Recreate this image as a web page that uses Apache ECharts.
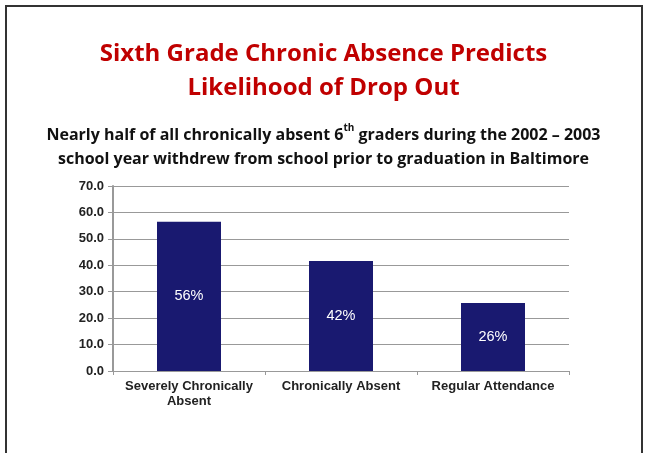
<!DOCTYPE html>
<html>
<head>
<meta charset="utf-8">
<script src="https://cdn.jsdelivr.net/npm/echarts@6/dist/echarts.min.js"></script>
<style>
  html, body { margin: 0; padding: 0; background: #fff; }
  #frame {
    position: absolute; left: 5px; top: 5px; width: 634px; height: 460px;
    border: 2px solid #333;
  }
  #chart { position: absolute; left: 0; top: 0; width: 647px; height: 453px; }
</style>
</head>
<body>
<div id="frame"></div>
<div id="chart"></div>
<script>
// chart data
const categories = ['Severely Chronically\nAbsent', 'Chronically Absent', 'Regular Attendance'];
const dropoutRates = [56.5, 41.6, 25.7];
const barLabels = ['56%', '42%', '26%'];

const chart = echarts.init(document.getElementById('chart'));

const option = {
  animation: false,
  title: [
    {
      text: 'Sixth Grade Chronic Absence Predicts\nLikelihood of Drop Out',
      left: 'center',
      top: 32,
      textStyle: {
        fontFamily: 'Open Sans',
        fontSize: 24,
        fontWeight: 'bold',
        color: '#C00000',
        lineHeight: 34
      }
    },
    {
      text: '{t|Nearly half of all chronically absent 6}{s|th}{t| graders during the 2002 – 2003}\n{t|school year withdrew from school prior to graduation in Baltimore}',
      left: 'center',
      top: 118,
      textStyle: {
        rich: {
          t: { fontFamily: 'Open Sans', fontSize: 16, fontWeight: 'bold', color: '#111', lineHeight: 24 },
          s: { fontFamily: 'Open Sans', fontSize: 10, fontWeight: 'bold', color: '#111', lineHeight: 24, verticalAlign: 'top', padding: [0, 0, 7, 0] }
        }
      }
    }
  ],
  grid: { left: 113, right: 78, top: 186, bottom: 82 },
  xAxis: {
    type: 'category',
    data: categories,
    axisLine: { lineStyle: { color: '#999', width: 1 } },
    axisTick: { show: true, length: 4, lineStyle: { color: '#999' } },
    axisLabel: {
      interval: 0,
      hideOverlap: false,
      fontFamily: 'Liberation Sans',
      fontSize: 13,
      fontWeight: 'bold',
      color: '#222',
      margin: 8,
      lineHeight: 15
    }
  },
  yAxis: {
    type: 'value',
    min: 0,
    max: 70,
    interval: 10,
    axisLine: { show: true, lineStyle: { color: '#999', width: 2 } },
    axisTick: { show: true, length: 5, lineStyle: { color: '#999' } },
    splitLine: { lineStyle: { color: '#999', width: 1 } },
    axisLabel: {
      fontFamily: 'Liberation Sans',
      fontSize: 13,
      fontWeight: 'bold',
      color: '#222',
      margin: 9,
      formatter: v => v.toFixed(1)
    }
  },
  series: [
    {
      type: 'bar',
      data: dropoutRates,
      barWidth: 64,
      itemStyle: { color: '#191970' },
      label: {
        show: true,
        position: 'inside',
        color: '#fff',
        fontFamily: 'Liberation Sans',
        fontSize: 14.5,
        formatter: p => barLabels[p.dataIndex]
      }
    }
  ]
};

chart.setOption(option);
</script>
</body>
</html>
